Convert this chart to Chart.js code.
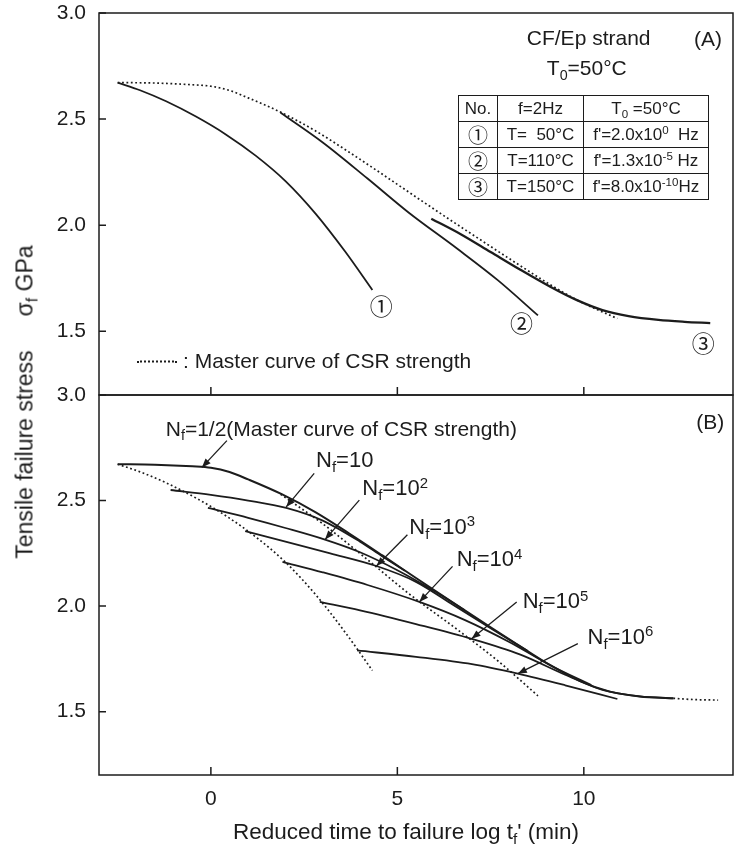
<!DOCTYPE html>
<html>
<head>
<meta charset="utf-8">
<script src="https://cdn.jsdelivr.net/npm/chart.js@4.4.1/dist/chart.umd.min.js"></script>
<style>
  body { margin: 0; background: #fff; }
  #wrap { position: relative; width: 738px; height: 852px; overflow: hidden;
          font-family: "Liberation Sans", Arial, Helvetica, sans-serif; color: #1c1c1c; }
  #wrap canvas { position: absolute; left: 0; }
  .lbl { position: absolute; white-space: nowrap; font-size: 21px; line-height: 1; }
  .lbl.nf { font-size: 22px; }
  .circ { font-family: "Noto Sans CJK JP", "DejaVu Sans", sans-serif; font-size: 23px; }
  sub, sup { font-size: 68%; line-height: 0; position: relative; vertical-align: baseline; }
  sub { top: 0.32em; }
  sup { top: -0.5em; }
  #cond { position: absolute; left: 458px; top: 95px; border-collapse: collapse; font-size: 17px; line-height: 1; }
  #cond td { border: 1.4px solid #1c1c1c; height: 25px; padding: 0 2px; white-space: nowrap; text-align: center; }
  #cond td.circ { font-size: 20px; }
  #legendA { position: absolute; left: 137px; top: 360px; transform: translateY(-50%); white-space: nowrap; font-size: 21px; line-height: 1; }
  #legendA .dots { display: inline-block; width: 40px; border-top: 2px dotted #1c1c1c; vertical-align: middle; margin-right: 6px; }
  #ytitle { position: absolute; left: 25px; top: 402px; transform: translate(-50%, -50%) rotate(-90deg);
            white-space: nowrap; font-size: 23px; line-height: 1; }
  #xtitle { position: absolute; left: 406px; top: 832px; transform: translate(-50%, -50%);
            white-space: nowrap; font-size: 22.5px; line-height: 1; }
</style>
</head>
<body>
<div id="wrap">
  <canvas id="panelA" width="738" height="396" style="top:0"></canvas>
  <canvas id="panelB" width="738" height="482" style="top:370px"></canvas>

  <table id="cond">
    <tr><td style="width:34px">No.</td><td style="width:81px">f=2Hz</td><td style="width:120px">T<sub>0</sub> =50°C</td></tr>
    <tr><td class="circ">①</td><td>T=&nbsp; 50°C</td><td>f'=2.0x10<sup>0</sup>&nbsp; Hz</td></tr>
    <tr><td class="circ">②</td><td>T=110°C</td><td>f'=1.3x10<sup>-5</sup> Hz</td></tr>
    <tr><td class="circ">③</td><td>T=150°C</td><td>f'=8.0x10<sup>-10</sup>Hz</td></tr>
  </table>
  <div id="legendA"><span class="dots"></span>: Master curve of CSR strength</div>
  <div id="ytitle">Tensile failure stress<span style="margin-left:34px">σ<sub>f</sub> GPa</span></div>
  <div id="xtitle">Reduced time to failure log t<sub>f</sub>' (min)</div>
</div>

<script>
var FONT = '"Liberation Sans", Arial, Helvetica, sans-serif';
var INK = '#1c1c1c';

// axes: reduced time to failure log tf' (min) / tensile failure stress (GPa)
var xTicks = [0, 5, 10];
var yTicks = [1.5, 2.0, 2.5, 3.0];

// (A) master curve of CSR strength, T0 = 50 C
var masterX = [-2.5, -1.5, -0.5, 0.0, 0.5, 1.0, 1.9, 2.8, 3.7, 4.6, 5.5, 6.4, 7.3, 8.2, 9.1, 9.9, 10.9];
var masterY = [2.672, 2.670, 2.662, 2.655, 2.635, 2.60, 2.53, 2.445, 2.345, 2.24, 2.133, 2.027, 1.923, 1.82, 1.72, 1.64, 1.56];

// (A) run 1: T = 50 C
var run1X = [-2.5, -1.9, -1.2, -0.4, 0.4, 1.2, 2.0, 2.8, 3.6, 4.33];
var run1Y = [2.672, 2.636, 2.584, 2.512, 2.428, 2.328, 2.208, 2.056, 1.876, 1.695];
// (A) run 2: T = 110 C
var run2X = [1.87, 3.0, 4.2, 5.3, 6.6, 7.7, 8.77];
var run2Y = [2.53, 2.39, 2.22, 2.06, 1.89, 1.74, 1.575];
// (A) run 3: T = 150 C
var run3X = [5.91, 6.7, 7.5, 8.3, 9.1, 9.8, 10.5, 11.2, 12.0, 12.7, 13.39];
var run3Y = [2.031, 1.958, 1.874, 1.79, 1.71, 1.648, 1.60, 1.572, 1.554, 1.545, 1.539];

// (B) Nf = 1/2, the master curve drawn solid, then its dotted tail
var nfHalfX = [-2.5, -1.5, -0.5, 0.0, 0.5, 1.0, 1.9, 2.8, 3.7, 4.6, 5.5, 6.4, 7.3, 8.2, 9.1, 9.9, 10.7, 11.5, 12.4];
var nfHalfY = [2.672, 2.670, 2.662, 2.655, 2.635, 2.60, 2.53, 2.445, 2.345, 2.24, 2.133, 2.027, 1.923, 1.82, 1.72, 1.645, 1.595, 1.572, 1.563];
var tailX = [12.4, 13.0, 13.6];
var tailY = [1.563, 1.557, 1.555];

// (B) constant-Nf fatigue curves
var nf1X = [-1.08, 0.0, 1.0, 2.02, 3.0, 4.0, 4.6, 5.2];
var nf1Y = [2.55, 2.527, 2.50, 2.465, 2.405, 2.305, 2.235, 2.168];
var nf2X = [-0.08, 1.0, 2.0, 3.06, 4.0, 5.0, 6.0, 6.8];
var nf2Y = [2.465, 2.418, 2.37, 2.315, 2.255, 2.17, 2.07, 1.981];
var nf3X = [0.92, 2.0, 3.2, 4.44, 5.5, 6.5, 7.5, 8.5];
var nf3Y = [2.355, 2.305, 2.25, 2.19, 2.115, 2.005, 1.895, 1.787];
var nf4X = [1.92, 3.0, 4.2, 5.59, 6.8, 8.0, 9.1, 10.2];
var nf4Y = [2.21, 2.16, 2.10, 2.02, 1.935, 1.83, 1.72, 1.626];
var nf5X = [2.92, 4.0, 5.5, 6.99, 8.3, 9.5, 10.5, 11.5, 12.4];
var nf5Y = [2.02, 1.98, 1.915, 1.845, 1.77, 1.675, 1.603, 1.572, 1.563];
var nf6X = [3.92, 5.5, 7.0, 8.23, 9.5, 10.9];
var nf6Y = [1.79, 1.76, 1.725, 1.68, 1.625, 1.56];

// labels and leader arrows, in data units
var notesA = [
  { x: 10.13, y: 2.887, html: 'CF/Ep strand', align: 'center' },
  { x: 13.33, y: 2.882, html: '(A)', align: 'center' },
  { x: 10.08, y: 2.745, html: 'T<sub>0</sub>=50°C', align: 'center' },
  { x: 4.57, y: 1.623, html: '①', align: 'center', cls: 'circ' },
  { x: 8.33, y: 1.542, html: '②', align: 'center', cls: 'circ' },
  { x: 13.2, y: 1.448, html: '③', align: 'center', cls: 'circ' }
];
var notesB = [
  { x: -1.21, y: 2.845, html: 'N<sub>f</sub>=1/2(Master curve of CSR strength)', from: [0.43, 2.784], tip: [-0.24, 2.657] },
  { x: 2.82, y: 2.69, html: 'N<sub>f</sub>=10', cls: 'nf', from: [2.77, 2.629], tip: [2.02, 2.47] },
  { x: 4.06, y: 2.559, html: 'N<sub>f</sub>=10<sup>2</sup>', cls: 'nf', from: [3.98, 2.502], tip: [3.06, 2.315] },
  { x: 5.32, y: 2.376, html: 'N<sub>f</sub>=10<sup>3</sup>', cls: 'nf', from: [5.27, 2.338], tip: [4.44, 2.19] },
  { x: 6.59, y: 2.221, html: 'N<sub>f</sub>=10<sup>4</sup>', cls: 'nf', from: [6.48, 2.188], tip: [5.59, 2.02] },
  { x: 8.36, y: 2.023, html: 'N<sub>f</sub>=10<sup>5</sup>', cls: 'nf', from: [8.2, 2.019], tip: [6.99, 1.845] },
  { x: 10.1, y: 1.854, html: 'N<sub>f</sub>=10<sup>6</sup>', cls: 'nf', from: [9.84, 1.822], tip: [8.23, 1.68] },
  { x: 13.39, y: 2.878, html: '(B)', align: 'center' }
];

function pts(xs, ys) {
  return xs.map(function(x, i) { return { x: x, y: ys[i] }; });
}
function solid(xs, ys, w) {
  return { data: pts(xs, ys), showLine: true, borderColor: INK, borderWidth: w || 1.8,
           pointRadius: 0, cubicInterpolationMode: 'monotone', fill: false };
}
function dotted(xs, ys) {
  var d = solid(xs, ys, 1.7);
  d.borderDash = [1.8, 2.6];
  return d;
}

// frame box plus short inward ticks
function frameTicks(xTickList) {
  return {
    id: 'frameTicks',
    afterDraw: function(chart) {
      var ctx = chart.ctx, a = chart.chartArea, sx = chart.scales.x, sy = chart.scales.y;
      ctx.save();
      ctx.strokeStyle = INK;
      ctx.lineWidth = 1.5;
      ctx.strokeRect(a.left, a.top, a.right - a.left, a.bottom - a.top);
      ctx.beginPath();
      yTicks.forEach(function(v) {
        var py = sy.getPixelForValue(v);
        ctx.moveTo(a.left, py); ctx.lineTo(a.left + 7, py);
      });
      xTickList.forEach(function(v) {
        var px = sx.getPixelForValue(v);
        ctx.moveTo(px, a.bottom); ctx.lineTo(px, a.bottom - 8);
      });
      ctx.stroke();
      ctx.restore();
    }
  };
}

var leaders = {
  id: 'leaders',
  afterDatasetsDraw: function(chart) {
    var ctx = chart.ctx, sx = chart.scales.x, sy = chart.scales.y;
    ctx.save();
    ctx.strokeStyle = INK;
    ctx.fillStyle = INK;
    ctx.lineWidth = 1.3;
    notesB.forEach(function(n) {
      if (!n.tip) return;
      var x0 = sx.getPixelForValue(n.from[0]), y0 = sy.getPixelForValue(n.from[1]);
      var x1 = sx.getPixelForValue(n.tip[0]), y1 = sy.getPixelForValue(n.tip[1]);
      var ang = Math.atan2(y1 - y0, x1 - x0);
      ctx.beginPath();
      ctx.moveTo(x0, y0); ctx.lineTo(x1, y1);
      ctx.stroke();
      ctx.beginPath();
      ctx.moveTo(x1, y1);
      ctx.lineTo(x1 - 9 * Math.cos(ang) + 3.5 * Math.sin(ang), y1 - 9 * Math.sin(ang) - 3.5 * Math.cos(ang));
      ctx.lineTo(x1 - 9 * Math.cos(ang) - 3.5 * Math.sin(ang), y1 - 9 * Math.sin(ang) + 3.5 * Math.cos(ang));
      ctx.closePath();
      ctx.fill();
    });
    ctx.restore();
  }
};

function yScale() {
  return {
    type: 'linear', min: 1.2, max: 3.0,
    // fixed width, and no extra room for the end labels
    afterFit: function(s) { s.width = 99; s.paddingTop = 0; s.paddingBottom = 0; },
    afterBuildTicks: function(s) { s.ticks = yTicks.map(function(v) { return { value: v }; }); },
    grid: { display: false, drawTicks: false },
    border: { display: false },
    ticks: { color: INK, padding: 13, font: { family: FONT, size: 21 },
             callback: function(v) { return Number(v).toFixed(1); } }
  };
}

function baseOptions(padding, xScale) {
  return {
    responsive: false, animation: false, devicePixelRatio: 1,
    layout: { padding: padding, autoPadding: false },
    plugins: { legend: { display: false }, tooltip: { enabled: false } },
    scales: { x: xScale, y: yScale() }
  };
}

var chartA = new Chart(document.getElementById('panelA'), {
  type: 'scatter',
  data: {
    datasets: [
      dotted(masterX, masterY),
      solid(run1X, run1Y),
      solid(run2X, run2Y),
      solid(run3X, run3Y, 2.3)
    ]
  },
  options: baseOptions({ top: 13, right: 5, bottom: 1, left: 0 },
    { type: 'linear', min: -3, max: 14, display: false }),
  plugins: [frameTicks(xTicks)]
});

var chartB = new Chart(document.getElementById('panelB'), {
  type: 'scatter',
  data: {
    datasets: [
      dotted(run1X, run1Y),
      dotted(run2X, run2Y),
      dotted(tailX, tailY),
      solid(nfHalfX, nfHalfY, 2.0),
      solid(nf1X, nf1Y),
      solid(nf2X, nf2Y),
      solid(nf3X, nf3Y),
      solid(nf4X, nf4Y),
      solid(nf5X, nf5Y),
      solid(nf6X, nf6Y)
    ]
  },
  options: baseOptions({ top: 25, right: 5, bottom: 0, left: 0 }, {
    type: 'linear', min: -3, max: 14,
    afterFit: function(s) { s.height = 77; s.paddingLeft = 0; s.paddingRight = 0; },
    afterBuildTicks: function(s) { s.ticks = xTicks.map(function(v) { return { value: v }; }); },
    grid: { display: false, drawTicks: false },
    border: { display: false },
    ticks: { color: INK, padding: 12, font: { family: FONT, size: 21 } }
  }),
  plugins: [frameTicks(xTicks), leaders]
});

// put the html labels where their data coordinates land
function placeNotes(chart, notes) {
  var wrap = document.getElementById('wrap');
  var top = chart.canvas.offsetTop;
  notes.forEach(function(n) {
    var el = document.createElement('div');
    el.className = 'lbl' + (n.cls ? ' ' + n.cls : '');
    el.innerHTML = n.html;
    el.style.left = chart.scales.x.getPixelForValue(n.x) + 'px';
    el.style.top = (top + chart.scales.y.getPixelForValue(n.y)) + 'px';
    el.style.transform = n.align === 'center' ? 'translate(-50%, -50%)' : 'translate(0, -50%)';
    wrap.appendChild(el);
  });
}
placeNotes(chartA, notesA);
placeNotes(chartB, notesB);
</script>
</body>
</html>
